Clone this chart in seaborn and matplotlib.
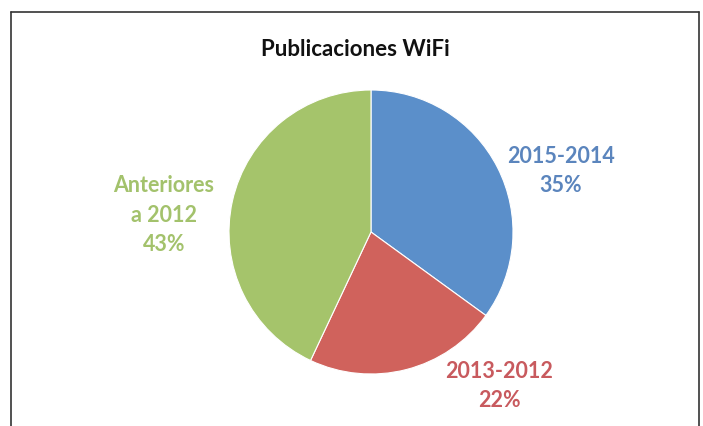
import matplotlib
matplotlib.use("Agg")
import matplotlib.pyplot as plt
from matplotlib.lines import Line2D
import seaborn as sns

categories = ["2015-2014", "2013-2012", "Anteriores\na 2012"]
values = [35, 22, 43]
colors = ["#5B8FCA", "#D0625C", "#A5C46B"]
text_colors = ["#5B85BD", "#C85A5E", "#A3C26C"]

sns.set_theme(style="white")
plt.rcParams['font.family'] = ['Lato', 'DejaVu Sans']

W, H = 703, 426
fig = plt.figure(figsize=(W / 100, H / 100), dpi=100)
fig.patch.set_facecolor("white")

cx, cy, r = 371, 232, 142
ax = fig.add_axes([(cx - r) / W, (H - cy - r) / H, 2 * r / W, 2 * r / H])
ax.pie(values, colors=colors, startangle=90, counterclock=False, radius=1.0,
       wedgeprops=dict(edgecolor="white", linewidth=0.8))
ax.set_xlim(-1, 1)
ax.set_ylim(-1, 1)
ax.set_aspect("equal")
ax.axis("off")

label_px = [(561, 171), (499, 386), (164, 215)]
for cat, v, col, (px, py) in zip(categories, values, text_colors, label_px):
    ax.text((px - cx) / r, (cy - py) / r, f"{cat}\n{v}%", ha="center", va="center",
            color=col, fontsize=15.5, fontweight="bold", linespacing=1.5, clip_on=False)

fig.text(355 / W, 1 - 50 / H, "Publicaciones WiFi", ha="center", va="center",
         fontsize=16, fontweight="bold", color="#111111")

lx, rx, ty = 10.5 / W, 698.5 / W, 1 - 12 / H
for xs, ys in [([lx, lx], [-0.05, ty]), ([lx, rx], [ty, ty]), ([rx, rx], [ty, -0.05])]:
    fig.add_artist(Line2D(xs, ys, transform=fig.transFigure, color="#333333", linewidth=1.2))

fig.savefig("out.png", dpi=100, facecolor="white")
